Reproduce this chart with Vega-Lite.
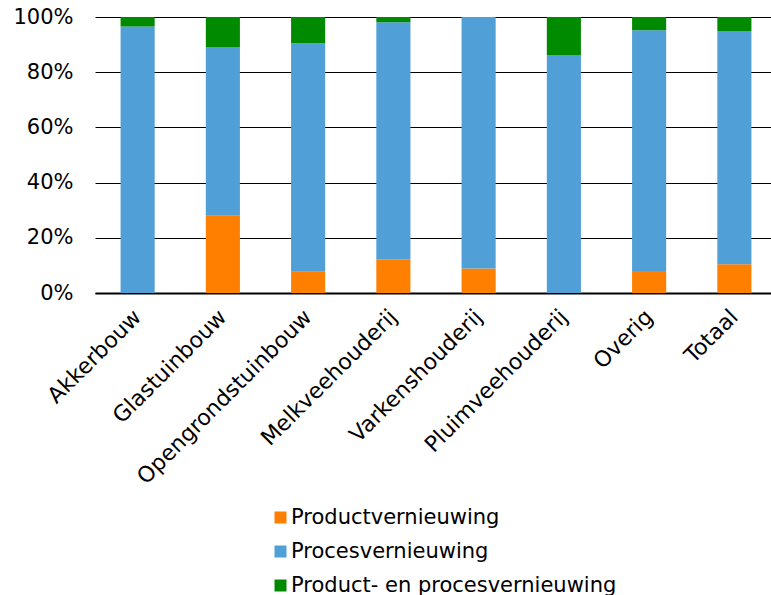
{
  "$schema": "https://vega.github.io/schema/vega-lite/v6.json",
  "width": 682,
  "height": 276,
  "autosize": "none",
  "padding": {"left": 95, "top": 17, "right": 0, "bottom": 302},
  "background": "white",
  "config": {
    "font": "DejaVu Sans",
    "view": {"stroke": null}
  },
  "data": {
    "values": [
      {"sector": "Akkerbouw", "type": "Productvernieuwing", "k": 1, "pct": 0},
      {"sector": "Akkerbouw", "type": "Procesvernieuwing", "k": 2, "pct": 96.6},
      {"sector": "Akkerbouw", "type": "Product- en procesvernieuwing", "k": 3, "pct": 3.4},
      {"sector": "Glastuinbouw", "type": "Productvernieuwing", "k": 1, "pct": 28.0},
      {"sector": "Glastuinbouw", "type": "Procesvernieuwing", "k": 2, "pct": 61.1},
      {"sector": "Glastuinbouw", "type": "Product- en procesvernieuwing", "k": 3, "pct": 10.9},
      {"sector": "Opengrondstuinbouw", "type": "Productvernieuwing", "k": 1, "pct": 7.7},
      {"sector": "Opengrondstuinbouw", "type": "Procesvernieuwing", "k": 2, "pct": 82.8},
      {"sector": "Opengrondstuinbouw", "type": "Product- en procesvernieuwing", "k": 3, "pct": 9.5},
      {"sector": "Melkveehouderij", "type": "Productvernieuwing", "k": 1, "pct": 12.2},
      {"sector": "Melkveehouderij", "type": "Procesvernieuwing", "k": 2, "pct": 85.9},
      {"sector": "Melkveehouderij", "type": "Product- en procesvernieuwing", "k": 3, "pct": 1.9},
      {"sector": "Varkenshouderij", "type": "Productvernieuwing", "k": 1, "pct": 8.9},
      {"sector": "Varkenshouderij", "type": "Procesvernieuwing", "k": 2, "pct": 91.1},
      {"sector": "Varkenshouderij", "type": "Product- en procesvernieuwing", "k": 3, "pct": 0},
      {"sector": "Pluimveehouderij", "type": "Productvernieuwing", "k": 1, "pct": 0},
      {"sector": "Pluimveehouderij", "type": "Procesvernieuwing", "k": 2, "pct": 86.2},
      {"sector": "Pluimveehouderij", "type": "Product- en procesvernieuwing", "k": 3, "pct": 13.8},
      {"sector": "Overig", "type": "Productvernieuwing", "k": 1, "pct": 8.0},
      {"sector": "Overig", "type": "Procesvernieuwing", "k": 2, "pct": 87.2},
      {"sector": "Overig", "type": "Product- en procesvernieuwing", "k": 3, "pct": 4.8},
      {"sector": "Totaal", "type": "Productvernieuwing", "k": 1, "pct": 10.4},
      {"sector": "Totaal", "type": "Procesvernieuwing", "k": 2, "pct": 84.5},
      {"sector": "Totaal", "type": "Product- en procesvernieuwing", "k": 3, "pct": 5.1}
    ]
  },
  "mark": {"type": "bar"},
  "encoding": {
    "x": {
      "field": "sector",
      "type": "nominal",
      "sort": null,
      "scale": {"paddingInner": 0.6, "paddingOuter": 0.3},
      "axis": {
        "title": null,
        "labelAngle": -45,
        "labelAlign": "right",
        "labelBaseline": "middle",
        "labelFontSize": 22,
        "labelColor": "#000000",
        "labelPadding": 20,
        "labelLimit": 400,
        "labelOverlap": false,
        "ticks": false,
        "domainColor": "#000000",
        "domainWidth": 2,
        "grid": false
      }
    },
    "y": {
      "field": "pct",
      "type": "quantitative",
      "stack": "zero",
      "scale": {"domain": [0, 100], "nice": false},
      "axis": {
        "title": null,
        "values": [0, 20, 40, 60, 80, 100],
        "labelExpr": "datum.value + '%'",
        "labelFontSize": 21,
        "labelColor": "#000000",
        "labelPadding": 22,
        "ticks": false,
        "domain": false,
        "grid": true,
        "gridColor": "#000000",
        "gridWidth": 1,
        "gridOpacity": 1
      }
    },
    "color": {
      "field": "type",
      "type": "nominal",
      "scale": {
        "domain": ["Productvernieuwing", "Procesvernieuwing", "Product- en procesvernieuwing"],
        "range": ["#FF7F00", "#519FD7", "#008A00"]
      },
      "legend": {
        "title": null,
        "orient": "none",
        "legendX": 175,
        "legendY": 490,
        "direction": "vertical",
        "symbolType": "square",
        "symbolSize": 144,
        "symbolStrokeWidth": 0,
        "symbolOpacity": 1,
        "labelFontSize": 21,
        "labelColor": "#000000",
        "labelOffset": 0,
        "rowPadding": 12,
        "labelLimit": 500
      }
    },
    "order": {"field": "k", "type": "quantitative"}
  }
}
